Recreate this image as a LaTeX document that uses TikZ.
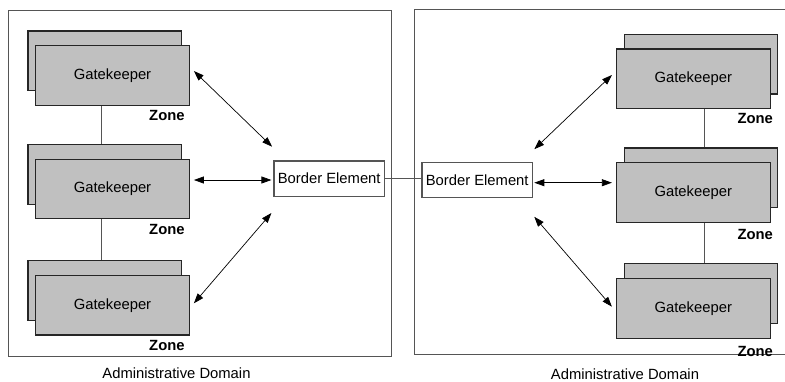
\documentclass[tikz,border=0pt]{standalone}
\usepackage{fontspec}
\setmainfont{Liberation Sans}
\usetikzlibrary{arrows.meta,positioning,shadows}
\definecolor{gkgray}{HTML}{C0C0C0}
\definecolor{framegray}{HTML}{555555}
\newcommand{\diagfont}{\fontsize{14.8pt}{17pt}\selectfont}
\tikzset{
  gatekeeper/.style={
    rectangle, draw=black!85, fill=gkgray, line width=1.2pt,
    minimum width=153.6pt, minimum height=59.6pt, inner sep=0pt,
    copy shadow={shadow xshift=#1, shadow yshift=14.7pt,
                 fill=gkgray, draw=black!85, line width=1.2pt}
  },
  gatekeeper/.default=-7.7pt,
  border/.style={
    rectangle, draw=framegray, fill=white, line width=1.1pt,
    minimum width=110.5pt, minimum height=35.5pt, inner sep=0pt
  },
  zonelabel/.style={font=\diagfont\bfseries},
  domlabel/.style={inner sep=0pt},
  admbox/.style={draw=framegray, line width=1.2pt},
  link/.style={draw=framegray, line width=1pt},
  msgarrow/.style={{Triangle[length=10pt,width=7pt]}-{Triangle[length=10pt,width=7pt]},
    line width=0.7pt, black},
}

\begin{document}
\begin{tikzpicture}[x=1pt, y=-1pt, font=\diagfont]
  \useasboundingbox (0,0) rectangle (785,381);

  % Left administrative domain
  \draw[admbox] (8.3,10.7) rectangle (391.7,356.7);
  \node[domlabel] (admL) at (176.5,373) {Administrative Domain};

  \node[gatekeeper] (gkL1) at (112.5,75.5) {Gatekeeper};
  \node[gatekeeper] (gkL2) at (112.5,189) {Gatekeeper};
  \node[gatekeeper] (gkL3) at (112.5,305.2) {Gatekeeper};
  \node[zonelabel] (znL1) at ([xshift=-23pt,yshift=-10pt]gkL1.south east) {Zone};
  \node[zonelabel] (znL2) at ([xshift=-23pt,yshift=-10pt]gkL2.south east) {Zone};
  \node[zonelabel] (znL3) at ([xshift=-23pt,yshift=-10pt]gkL3.south east) {Zone};
  \draw[link] ([xshift=-10.8pt]gkL1.south) -- ([xshift=-10.8pt,yshift=14.7pt]gkL2.north);
  \draw[link] ([xshift=-10.8pt]gkL2.south) -- ([xshift=-10.8pt,yshift=14.7pt]gkL3.north);

  \node[border] (beL) at (329.2,178.7) {Border Element};

  \draw[msgarrow] ([xshift=4pt,yshift=4.5pt]gkL1.east) -- ([xshift=-1.3pt,yshift=13.7pt]beL.north west);
  \draw[msgarrow] ([xshift=4pt,yshift=9pt]gkL2.east) -- ([xshift=-2pt,yshift=-1.3pt]beL.west);
  \draw[msgarrow] ([xshift=4pt,yshift=1.9pt]gkL3.east) -- ([xshift=-2pt,yshift=-16pt]beL.south west);

  % Right administrative domain
  \draw[admbox] (414.7,9.3) rectangle (800,354.3);
  \node[domlabel] (admR) at (625,374) {Administrative Domain};

  \node[gatekeeper=7.7pt] (gkR1) at (693.3,78.8) {Gatekeeper};
  \node[gatekeeper=7.7pt] (gkR2) at (693.3,192.5) {Gatekeeper};
  \node[gatekeeper=7.7pt] (gkR3) at (693.3,308.3) {Gatekeeper};
  \node[zonelabel] (znR1) at ([xshift=-15.5pt,yshift=-9pt]gkR1.south east) {Zone};
  \node[zonelabel] (znR2) at ([xshift=-15.5pt,yshift=-11.5pt]gkR2.south east) {Zone};
  \node[zonelabel] (znR3) at ([xshift=-15.5pt,yshift=-13pt]gkR3.south east) {Zone};
  \draw[link] ([xshift=11pt]gkR1.south) -- ([xshift=11pt,yshift=14.7pt]gkR2.north);
  \draw[link] ([xshift=11pt]gkR2.south) -- ([xshift=11pt,yshift=14.7pt]gkR3.north);

  \node[border] (beR) at (477.2,179.8) {Border Element};

  \draw[msgarrow] ([xshift=1.3pt,yshift=12.3pt]beR.north east) -- ([xshift=-4pt,yshift=3.8pt]gkR1.west);
  \draw[msgarrow] ([xshift=1.3pt,yshift=-2.9pt]beR.east) -- ([xshift=-4pt,yshift=9.8pt]gkR2.west);
  \draw[msgarrow] ([xshift=1.3pt,yshift=-18.7pt]beR.south east) -- ([xshift=-4pt,yshift=1.6pt]gkR3.west);

  % Link between the border elements
  \draw[link] (beL.east) -- (beL.east -| beR.west);
\end{tikzpicture}
\end{document}
